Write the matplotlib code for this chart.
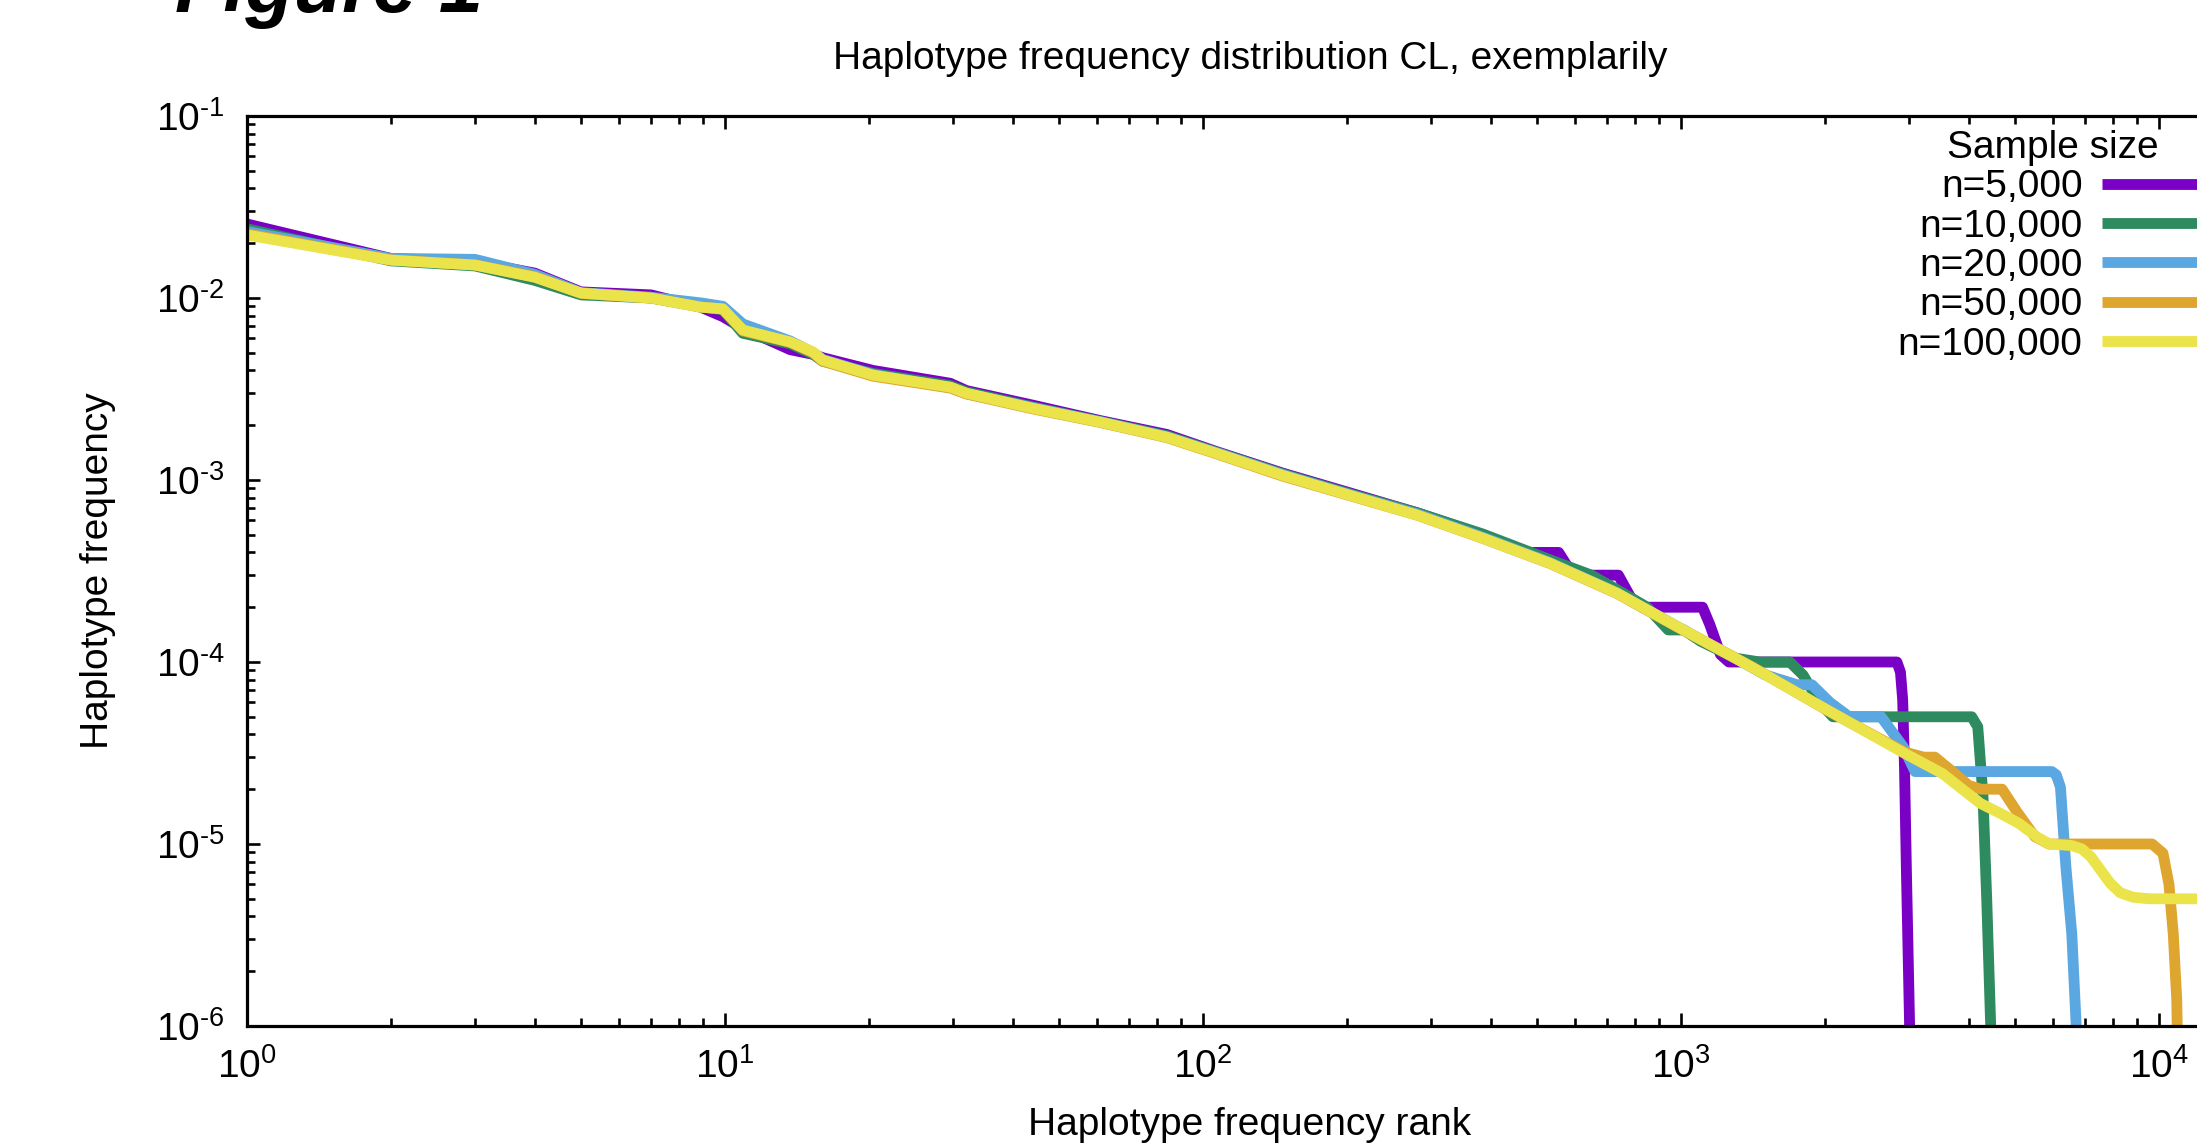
import numpy as np
import matplotlib
matplotlib.use("Agg")
import matplotlib.pyplot as plt
from matplotlib.ticker import LogLocator, FuncFormatter, NullFormatter

plt.rcParams['font.family'] = ['Liberation Sans', 'DejaVu Sans']
plt.rcParams['mathtext.fontset'] = 'custom'
plt.rcParams['mathtext.rm'] = 'Liberation Sans'
plt.rcParams['mathtext.default'] = 'regular'

# rank / frequency, one pair per sample size
rank_5k = [1, 2, 3, 4, 5, 7, 8.9, 9.9, 10.9, 13.7, 15.3, 16, 20.4, 29.6, 32, 44, 61, 84,
           107, 147, 203, 281, 385, 450, 480, 555, 590, 610, 740, 790, 830, 1110, 1150,
           1210, 1260, 2831, 2880, 2911, 2937, 2963, 3015, 3050]
freq_5k = [0.0255, 0.0165, 0.0158, 0.0137, 0.0108, 0.0104, 0.0089, 0.0079, 0.0068, 0.0052,
           0.0049, 0.0047, 0.0040, 0.0034, 0.0031, 0.00258, 0.00212, 0.00178, 0.00143,
           0.00109, 0.00085, 0.00066, 0.00050, 0.00042, 0.0004, 0.0004, 0.00031, 0.0003,
           0.0003, 0.00022, 0.0002, 0.0002, 0.00016, 0.00011, 0.0001, 0.0001, 8.8e-5,
           6.2e-5, 2.6e-5, 7.4e-6, 8e-7, 1e-7]

rank_10k = [1, 2, 3, 4, 5, 7, 8.9, 9.9, 10.9, 13.7, 15.3, 16, 20.4, 29.6, 32, 44, 61, 84,
            107, 147, 203, 281, 385, 532, 650, 735, 850, 941, 1014, 1100, 1300, 1462,
            1690, 1800, 1950, 2080, 4060, 4180, 4285, 4365, 4454, 4500]
freq_10k = [0.0240, 0.0160, 0.0150, 0.0125, 0.0104, 0.0100, 0.0090, 0.0086, 0.0064, 0.0056,
            0.0049, 0.0045, 0.00385, 0.00330, 0.00305, 0.00252, 0.00210, 0.00175, 0.00142,
            0.00108, 0.00084, 0.00066, 0.000505, 0.000365, 0.0003, 0.00025, 0.0002,
            0.00015, 0.00015, 0.00013, 0.000105, 0.0001, 0.0001, 8.5e-5, 6e-5, 5e-5,
            5e-5, 4.4e-5, 1.85e-5, 4.9e-6, 9e-7, 1e-7]

rank_20k = [1, 2, 3, 4, 5, 7, 8.9, 9.9, 10.9, 13.7, 15.3, 16, 20.4, 29.6, 32, 44, 61, 84,
            107, 147, 203, 281, 385, 532, 735, 977, 1300, 1500, 1750, 1880, 2050, 2250,
            2624, 2922, 3090, 5970, 6100, 6225, 6390, 6575, 6760, 6800]
freq_20k = [0.0232, 0.0165, 0.0163, 0.0135, 0.0107, 0.0101, 0.0094, 0.0090, 0.0072, 0.0058,
            0.0050, 0.0046, 0.00380, 0.00322, 0.00298, 0.00250, 0.00209, 0.00173, 0.00141,
            0.00107, 0.00083, 0.00065, 0.000485, 0.000352, 0.00024, 0.000158, 0.000105,
            8.5e-5, 7.5e-5, 7.5e-5, 6e-5, 5e-5, 5e-5, 3.4e-5, 2.5e-5, 2.5e-5, 2.4e-5,
            2.05e-5, 7.5e-6, 3.2e-6, 7e-7, 1e-7]

rank_50k = [1, 2, 3, 4, 5, 7, 8.9, 9.9, 10.9, 13.7, 15.3, 16, 20.4, 29.6, 32, 44, 61, 84,
            107, 147, 203, 281, 385, 532, 735, 977, 1409, 2032, 2938, 3220, 3400, 3700,
            4000, 4240, 4700, 5050, 5500, 5890, 9680, 10200, 10500, 10720, 10900, 11100]
freq_50k = [0.0225, 0.0162, 0.0152, 0.0131, 0.0106, 0.0100, 0.0089, 0.0087, 0.0066, 0.0057,
            0.0050, 0.0045, 0.00372, 0.00320, 0.00297, 0.00246, 0.00207, 0.00171, 0.00139,
            0.00105, 0.00082, 0.00064, 0.000478, 0.000348, 0.000238, 0.000157, 9.4e-5,
            5.4e-5, 3.2e-5, 3e-5, 3e-5, 2.5e-5, 2.1e-5, 2e-5, 2e-5, 1.5e-5, 1.1e-5, 1e-5,
            1e-5, 8.9e-6, 6e-6, 3.2e-6, 1.4e-6, 1e-7]

rank_100k = [1, 2, 3, 4, 5, 7, 8.9, 9.9, 10.9, 13.7, 15.3, 16, 20.4, 29.6, 32, 44, 61, 84,
             107, 147, 203, 281, 385, 532, 735, 977, 1409, 2032, 2938, 3524, 4236, 4645,
             5093, 5600, 5900, 6577, 6900, 7211, 7550, 7907, 8300, 8831, 9550, 15850]
freq_100k = [0.0222, 0.01614, 0.01517, 0.0130, 0.01064, 0.0100, 0.00891, 0.00871, 0.00667,
             0.00573, 0.00505, 0.00456, 0.00377, 0.00324, 0.0030, 0.00248, 0.00208, 0.00172,
             0.00140, 0.00106, 0.000824, 0.000641, 0.000479, 0.000349, 0.000239, 0.000158,
             9.35e-5, 5.42e-5, 3.15e-5, 2.44e-5, 1.67e-5, 1.48e-5, 1.30e-5, 1.08e-5, 1.0e-5,
             9.8e-6, 9.4e-6, 8.5e-6, 7.2e-6, 6.1e-6, 5.4e-6, 5.1e-6, 5.0e-6, 5.0e-6]

labels = ['n=5,000', 'n=10,000', 'n=20,000', 'n=50,000', 'n=100,000']
colors = ['#7a00c6', '#2e8b5f', '#5ba7e2', '#dea52f', '#ebe34a']
series = [(rank_5k, freq_5k), (rank_10k, freq_10k), (rank_20k, freq_20k),
          (rank_50k, freq_50k), (rank_100k, freq_100k)]

W, H = 2197, 1148
fig = plt.figure(figsize=(W / 100, H / 100), dpi=100)
# axes runs past the right edge of the picture, like the cropped original
left, right, top, bottom = 247, 2253, 116, 1026
ax = fig.add_axes([left / W, 1 - bottom / H, (right - left) / W, (bottom - top) / H])

for (r, f), lab, c in zip(series, labels, colors):
    ax.plot(r, f, color=c, lw=7.8, label=lab, solid_joinstyle='round',
            solid_capstyle='butt')

ax.set_xscale('log')
ax.set_yscale('log')
ax.set_xlim(1, 10 ** 4.197)
ax.set_ylim(1e-6, 1e-1)


def sci(v, pos):
    e = int(round(np.log10(v)))
    s = str(e).replace('-', '\u2010')
    return r'$10^{%s}$' % s


for axis in (ax.xaxis, ax.yaxis):
    axis.set_major_locator(LogLocator(base=10, numticks=20))
    axis.set_minor_locator(LogLocator(base=10, subs=np.arange(2, 10), numticks=20))
    axis.set_major_formatter(FuncFormatter(sci))
    axis.set_minor_formatter(NullFormatter())

ax.tick_params(which='both', direction='in', top=True, right=True, width=1.9,
               colors='black')
ax.tick_params(which='major', length=9.5, labelsize=28)
ax.tick_params(which='minor', length=5.5)
ax.tick_params(axis='x', which='major', pad=16)
ax.tick_params(axis='y', which='major', pad=16)
for sp in ax.spines.values():
    sp.set_linewidth(2.3)

ax.set_title('Haplotype frequency distribution CL, exemplarily', fontsize=28,
             y=1 + 57 / (bottom - top), va='center', pad=0)
ax.set_xlabel('Haplotype frequency rank', fontsize=28, va='center')
ax.xaxis.set_label_coords(0.5, -(1125 - bottom) / (bottom - top))
ax.set_ylabel('Haplotype frequency', fontsize=28, va='center')
ax.yaxis.set_label_coords(-(left - 98) / (right - left), 0.5)

leg = ax.legend(title='Sample size', markerfirst=False, frameon=False,
                loc='upper right', bbox_to_anchor=(2207 / W, 1 - 130 / H),
                bbox_transform=fig.transFigure, fontsize=28, title_fontsize=28,
                handlelength=2.7, handletextpad=0.5, labelspacing=0.085,
                borderpad=0, borderaxespad=0)

fig.text(175 / W, 1 - 12 / H, 'Figure 1', fontsize=57, fontweight='bold',
         fontstyle='italic', va='baseline', ha='left')

fig.savefig('out.png', dpi=100)
